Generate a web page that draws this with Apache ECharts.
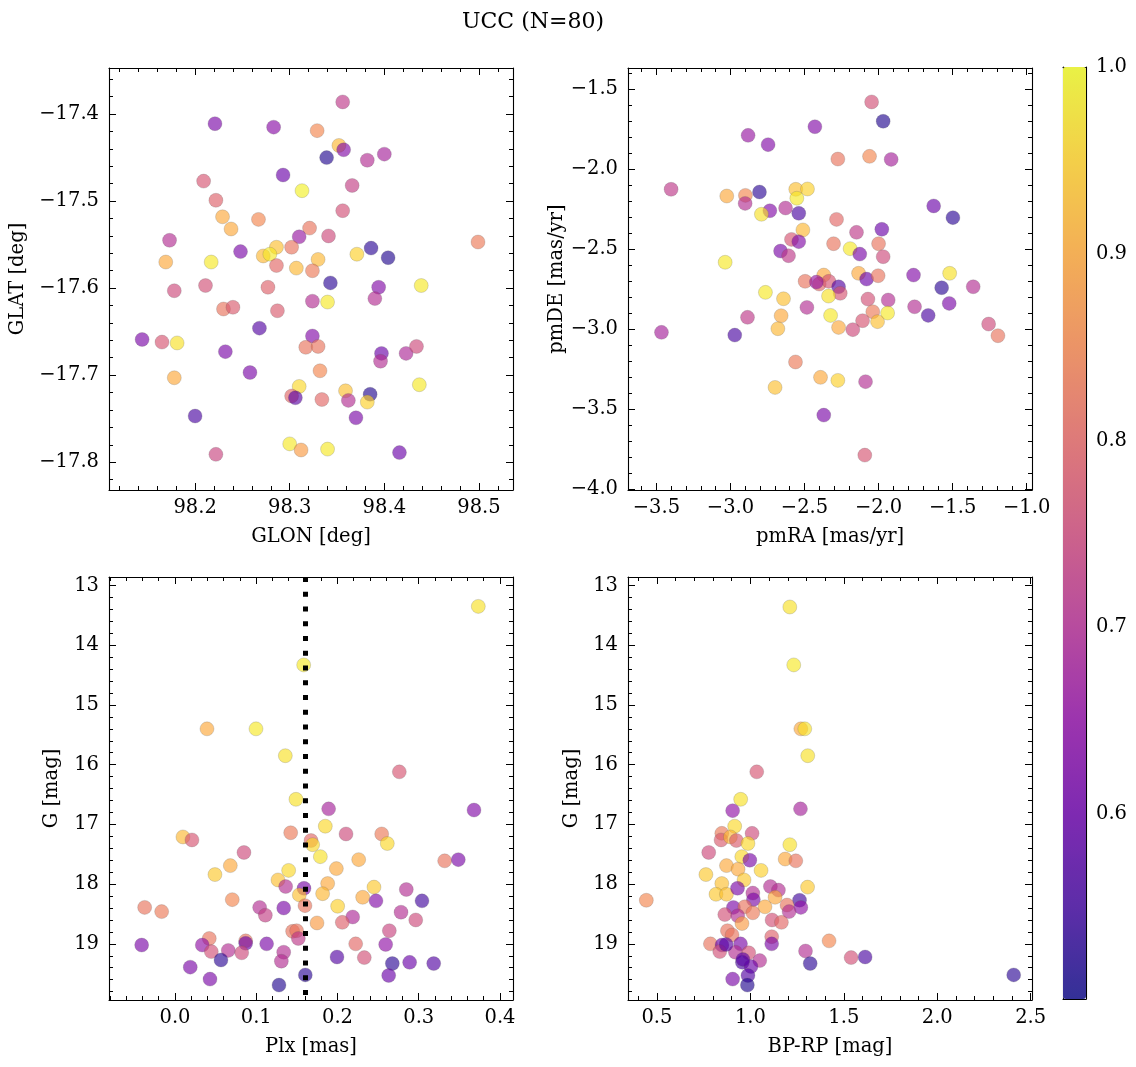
<!DOCTYPE html>
<html><head><meta charset="utf-8">
<script src="https://cdn.jsdelivr.net/npm/echarts@6/dist/echarts.min.js"></script>
<style>html,body{margin:0;padding:0;background:#fff}#c{width:1136px;height:1067px}</style>
</head><body><div id="c"></div>
<script>
const chartTitle = 'UCC (N=80)';

// [GLON, GLAT, prob]
const posData = [
[98.356,-17.386,0.72],[98.221,-17.411,0.62],[98.283,-17.415,0.64],[98.329,-17.419,0.85],[98.352,-17.436,0.92],
[98.357,-17.441,0.63],[98.339,-17.450,0.52],[98.382,-17.453,0.70],[98.400,-17.446,0.68],[98.293,-17.470,0.60],
[98.313,-17.488,0.99],[98.366,-17.482,0.73],[98.209,-17.477,0.77],[98.222,-17.499,0.79],[98.229,-17.518,0.90],
[98.238,-17.532,0.90],[98.267,-17.521,0.85],[98.356,-17.511,0.76],[98.321,-17.531,0.82],[98.310,-17.541,0.66],
[98.341,-17.540,0.75],[98.173,-17.545,0.70],[98.499,-17.547,0.83],[98.386,-17.554,0.53],[98.404,-17.565,0.52],
[98.302,-17.553,0.82],[98.286,-17.553,0.93],[98.272,-17.563,0.92],[98.279,-17.561,0.98],[98.248,-17.558,0.62],
[98.169,-17.570,0.90],[98.217,-17.570,0.98],[98.371,-17.561,0.95],[98.330,-17.567,0.92],[98.307,-17.577,0.92],
[98.286,-17.574,0.80],[98.324,-17.580,0.83],[98.343,-17.594,0.53],[98.394,-17.599,0.63],[98.439,-17.597,0.98],
[98.178,-17.603,0.75],[98.211,-17.597,0.76],[98.277,-17.599,0.79],[98.390,-17.612,0.70],[98.324,-17.615,0.70],
[98.340,-17.616,0.98],[98.230,-17.624,0.82],[98.240,-17.622,0.78],[98.287,-17.626,0.78],[98.268,-17.646,0.57],
[98.144,-17.659,0.62],[98.165,-17.662,0.77],[98.181,-17.663,0.97],[98.324,-17.655,0.63],[98.317,-17.668,0.82],
[98.330,-17.667,0.82],[98.397,-17.675,0.60],[98.396,-17.684,0.70],[98.423,-17.675,0.69],[98.434,-17.667,0.75],
[98.232,-17.673,0.62],[98.258,-17.697,0.62],[98.332,-17.695,0.85],[98.178,-17.703,0.90],[98.310,-17.713,0.96],
[98.437,-17.711,0.98],[98.359,-17.718,0.93],[98.302,-17.724,0.80],[98.306,-17.726,0.58],[98.334,-17.728,0.80],
[98.362,-17.729,0.70],[98.385,-17.722,0.52],[98.382,-17.731,0.95],[98.200,-17.747,0.56],[98.370,-17.749,0.62],
[98.300,-17.779,0.98],[98.312,-17.786,0.88],[98.340,-17.785,0.98],[98.222,-17.791,0.74],[98.416,-17.789,0.60]
];

// [pmRA, pmDE, prob]
const pmData = [
[-2.047,-1.579,0.76],[-1.969,-1.700,0.52],[-2.430,-1.734,0.63],[-2.881,-1.788,0.66],[-2.746,-1.846,0.63],
[-2.275,-1.936,0.82],[-2.061,-1.919,0.85],[-1.915,-1.938,0.68],[-3.401,-2.125,0.72],[-3.025,-2.167,0.90],
[-2.899,-2.163,0.85],[-2.901,-2.213,0.70],[-2.804,-2.142,0.53],[-2.559,-2.125,0.93],[-2.480,-2.123,0.95],
[-2.552,-2.181,0.98],[-2.734,-2.259,0.63],[-2.791,-2.281,0.97],[-2.628,-2.242,0.70],[-2.539,-2.275,0.56],
[-1.628,-2.229,0.60],[-1.498,-2.302,0.53],[-2.284,-2.313,0.80],[-2.511,-2.379,0.92],[-2.149,-2.394,0.72],
[-1.978,-2.375,0.60],[-2.588,-2.438,0.77],[-2.539,-2.452,0.63],[-2.304,-2.465,0.82],[-2.000,-2.465,0.82],
[-2.192,-2.496,0.98],[-2.127,-2.530,0.62],[-1.969,-2.546,0.75],[-2.662,-2.511,0.62],[-2.608,-2.540,0.72],
[-3.036,-2.581,0.98],[-2.370,-2.661,0.90],[-2.135,-2.650,0.90],[-2.081,-2.686,0.60],[-2.003,-2.665,0.82],
[-1.764,-2.661,0.63],[-1.520,-2.650,0.97],[-2.496,-2.700,0.82],[-2.401,-2.717,0.80],[-2.336,-2.700,0.77],
[-2.270,-2.734,0.57],[-2.259,-2.775,0.77],[-2.338,-2.792,0.97],[-2.764,-2.769,0.98],[-2.642,-2.809,0.93],
[-1.574,-2.740,0.53],[-1.361,-2.734,0.70],[-2.072,-2.811,0.76],[-1.935,-2.817,0.70],[-1.523,-2.838,0.62],
[-2.484,-2.863,0.70],[-1.757,-2.859,0.70],[-2.039,-2.890,0.83],[-1.939,-2.898,0.98],[-2.324,-2.913,0.98],
[-2.658,-2.915,0.90],[-2.885,-2.925,0.72],[-1.665,-2.913,0.56],[-2.108,-2.946,0.77],[-2.007,-2.952,0.93],
[-1.257,-2.967,0.75],[-1.194,-3.040,0.82],[-2.680,-2.996,0.92],[-2.270,-2.988,0.90],[-2.174,-3.002,0.75],
[-3.466,-3.019,0.68],[-2.971,-3.036,0.56],[-2.561,-3.204,0.83],[-2.392,-3.300,0.90],[-2.275,-3.319,0.95],
[-2.088,-3.327,0.70],[-2.699,-3.363,0.93],[-2.370,-3.536,0.62],[-2.093,-3.786,0.77],[-2.420,-2.705,0.66]
];

// [Plx, G, prob]
const plxData = [
[0.3733,13.35,0.97],[0.1584,14.33,0.98],[0.0394,15.40,0.90],[0.0997,15.40,0.98],[0.1358,15.85,0.97],
[0.2761,16.12,0.77],[0.1489,16.58,0.97],[0.1891,16.74,0.68],[0.3680,16.76,0.63],[0.1850,17.03,0.96],
[0.0098,17.21,0.92],[0.0209,17.26,0.77],[0.1424,17.14,0.83],[0.1674,17.27,0.80],[0.1694,17.34,0.96],
[0.2105,17.16,0.75],[0.2544,17.16,0.83],[0.2613,17.32,0.96],[0.0849,17.47,0.75],[0.1789,17.54,0.97],
[0.2261,17.59,0.90],[0.3319,17.61,0.82],[0.3487,17.59,0.62],[0.0681,17.69,0.90],[0.1986,17.74,0.90],
[0.0492,17.84,0.94],[0.1399,17.77,0.96],[0.1268,17.93,0.93],[0.1362,18.04,0.70],[0.1588,18.07,0.62],
[0.1879,17.99,0.90],[0.2449,18.05,0.94],[0.2847,18.09,0.70],[0.1530,18.18,0.93],[0.1817,18.16,0.92],
[0.2310,18.22,0.90],[0.3040,18.28,0.55],[0.2474,18.28,0.63],[0.0705,18.26,0.85],[-0.0373,18.39,0.82],
[-0.0164,18.46,0.83],[0.1042,18.39,0.70],[0.1112,18.52,0.73],[0.1338,18.40,0.62],[0.1600,18.36,0.82],
[0.2002,18.37,0.95],[0.2187,18.55,0.69],[0.2782,18.47,0.70],[0.2963,18.60,0.75],[0.1748,18.65,0.88],
[0.2059,18.64,0.79],[0.2638,18.78,0.74],[0.1448,18.79,0.82],[0.1497,18.78,0.82],[0.1518,18.91,0.72],
[0.0422,18.91,0.82],[0.0870,18.95,0.82],[0.0870,18.99,0.60],[-0.0410,19.02,0.62],[0.0336,19.02,0.65],
[0.1128,19.00,0.62],[0.2224,19.00,0.80],[0.2593,19.01,0.65],[0.0447,19.13,0.76],[0.0656,19.11,0.70],
[0.0821,19.15,0.75],[0.1338,19.14,0.70],[0.1309,19.29,0.70],[0.0566,19.27,0.53],[0.1994,19.22,0.57],
[0.2330,19.23,0.76],[0.2675,19.33,0.53],[0.2888,19.31,0.60],[0.3184,19.33,0.57],[0.0188,19.39,0.62],
[0.0431,19.59,0.62],[0.1604,19.52,0.53],[0.2630,19.53,0.60],[0.1280,19.69,0.52]
];

// [BP-RP, G, prob]
const cmdData = [
[1.211,13.36,0.97],[1.232,14.33,0.98],[1.270,15.40,0.90],[1.291,15.40,0.97],[1.307,15.85,0.97],
[1.034,16.12,0.77],[0.948,16.58,0.97],[0.905,16.77,0.65],[1.268,16.74,0.68],[0.916,17.03,0.96],
[0.847,17.15,0.83],[0.843,17.26,0.78],[0.893,17.21,0.92],[0.925,17.27,0.78],[1.009,17.15,0.75],
[0.987,17.32,0.96],[1.211,17.34,0.97],[0.777,17.47,0.75],[0.954,17.54,0.96],[0.997,17.60,0.62],
[1.186,17.58,0.90],[1.243,17.61,0.82],[0.872,17.69,0.90],[0.934,17.75,0.90],[1.057,17.77,0.95],
[0.762,17.84,0.94],[0.966,17.93,0.94],[0.847,17.99,0.93],[0.816,18.17,0.94],[0.872,18.17,0.93],
[0.931,18.07,0.62],[1.107,18.04,0.70],[1.150,18.10,0.70],[1.306,18.05,0.94],[1.013,18.15,0.70],
[1.016,18.26,0.62],[1.132,18.22,0.90],[1.078,18.38,0.90],[1.263,18.27,0.55],[1.196,18.35,0.82],
[1.270,18.39,0.65],[1.207,18.46,0.70],[0.443,18.27,0.85],[0.909,18.39,0.62],[0.970,18.38,0.82],
[1.013,18.48,0.83],[0.863,18.51,0.76],[0.932,18.53,0.70],[0.955,18.66,0.88],[1.116,18.60,0.76],
[1.166,18.64,0.80],[0.877,18.78,0.82],[0.902,18.85,0.82],[1.114,18.88,0.79],[1.114,19.00,0.62],
[1.421,18.95,0.85],[0.786,19.00,0.82],[0.848,19.02,0.60],[0.947,19.00,0.62],[0.836,19.13,0.76],
[0.920,19.14,0.70],[0.991,19.15,0.76],[1.050,19.28,0.70],[1.295,19.12,0.70],[0.957,19.31,0.56],
[1.003,19.38,0.60],[1.320,19.33,0.53],[1.539,19.23,0.76],[1.614,19.22,0.56],[2.409,19.52,0.53],
[0.905,19.59,0.62],[0.987,19.53,0.57],[0.984,19.69,0.52],[0.870,19.01,0.58],[0.960,19.26,0.58]
];

const plxMean = 0.159;

// tick labels
const glonTicks = [98.2, 98.3, 98.4, 98.5];
const glatTicks = [-17.8, -17.7, -17.6, -17.5, -17.4];
const pmraTicks = [-3.5, -3.0, -2.5, -2.0, -1.5, -1.0];
const pmdeTicks = [-4.0, -3.5, -3.0, -2.5, -2.0, -1.5];
const plxTicks = [0.0, 0.1, 0.2, 0.3, 0.4];
const gTicks = [13, 14, 15, 16, 17, 18, 19];
const bprpTicks = [0.5, 1.0, 1.5, 2.0, 2.5];
const cbarTicks = [0.6, 0.7, 0.8, 0.9, 1.0];
const probRange = [0.501, 1.0];

const plasma = ['#0d0887','#41049d','#6a00a8','#8f0da4','#b12a90','#cc4778','#e16462','#f2844b','#fca636','#fcce25','#f0f921'];
function rgba(h, a) { const n = parseInt(h.slice(1), 16); return 'rgba(' + (n >> 16) + ',' + ((n >> 8) & 255) + ',' + (n & 255) + ',' + a + ')'; }
const plasmaA = plasma.map(c => rgba(c, 0.8));

const FONT = 'DejaVu Serif';
const FS = 19.5;
function fmt(dec) { return v => (v < -1e-9 ? '\u2212' : '') + Math.abs(v).toFixed(dec); }
function mult(min, max, step) { const a = []; for (let i = Math.ceil(min / step - 1e-6); i <= Math.floor(max / step + 1e-6); i++) a.push(+(i * step).toFixed(6)); return a; }

const panels = [
  { grid: {left:109, top:68, width:404, height:422}, data: posData,
    x: {min:98.109, max:98.536, major:glonTicks, minor:0.02, dec:1, name:'GLON [deg]', gap:37},
    y: {min:-17.832, max:-17.347, major:glatTicks, minor:0.02, dec:1, name:'GLAT [deg]', gap:81} },
  { grid: {left:628, top:68, width:404, height:422}, data: pmData,
    x: {min:-3.692, max:-0.964, major:pmraTicks, minor:0.1, dec:1, name:'pmRA [mas/yr]', gap:37},
    y: {min:-4.004, max:-1.367, major:pmdeTicks, minor:0.1, dec:1, name:'pmDE [mas/yr]', gap:48} },
  { grid: {left:109, top:577, width:404, height:423}, data: plxData,
    x: {min:-0.0812, max:0.416, major:plxTicks, minor:0.02, dec:1, name:'Plx [mas]', gap:37},
    y: {min:12.858, max:19.94, major:gTicks, minor:0.2, dec:0, name:'G [mag]', gap:47, inverse:true} },
  { grid: {left:628, top:577, width:404, height:423}, data: cmdData,
    x: {min:0.345, max:2.507, major:bprpTicks, minor:0.1, dec:1, name:'BP-RP [mag]', gap:37},
    y: {min:12.858, max:19.94, major:gTicks, minor:0.2, dec:0, name:'G [mag]', gap:46, inverse:true} }
];

const grids = [], xAxes = [], yAxes = [], series = [];
const lineS = {color:'#000', width:1.1};
const tickS = {color:'#000', width:1};

function makeAxes(list, g, a, isX) {
  const posMain = isX ? 'bottom' : 'left', posOpp = isX ? 'top' : 'right';
  const minors = mult(a.min, a.max, a.minor);
  const base = {gridIndex:g, type:'value', min:a.min, max:a.max, inverse:!!a.inverse, splitLine:{show:false}, silent:true};
  const mainIdx = list.length;
  list.push(Object.assign({}, base, {
    position: posMain,
    axisLine: {show:true, onZero:false, lineStyle:lineS},
    axisTick: {show:true, inside:true, length:7, customValues:a.major, lineStyle:tickS},
    axisLabel: {show:true, customValues:a.major, formatter:fmt(a.dec), fontFamily:FONT, fontSize:FS, color:'#000', margin: isX ? 8 : 10},
    name: a.name, nameLocation:'middle', nameGap:a.gap,
    nameTextStyle: {fontFamily:FONT, fontSize:FS, color:'#000'}
  }));
  list.push(Object.assign({}, base, {
    position: posMain, axisLine:{show:false, onZero:false},
    axisTick: {show:true, inside:true, length:4, customValues:minors, lineStyle:tickS},
    axisLabel: {show:false}
  }));
  list.push(Object.assign({}, base, {
    position: posOpp, axisLine:{show:true, onZero:false, lineStyle:lineS},
    axisTick: {show:true, inside:true, length:7, customValues:a.major, lineStyle:tickS},
    axisLabel: {show:false}
  }));
  list.push(Object.assign({}, base, {
    position: posOpp, axisLine:{show:false, onZero:false},
    axisTick: {show:true, inside:true, length:4, customValues:minors, lineStyle:tickS},
    axisLabel: {show:false}
  }));
  return mainIdx;
}

panels.forEach((p, g) => {
  grids.push(p.grid);
  const xi = makeAxes(xAxes, g, p.x, true);
  const yi = makeAxes(yAxes, g, p.y, false);
  const s = {
    type:'scatter', xAxisIndex:xi, yAxisIndex:yi, data:p.data, symbolSize:14,
    itemStyle:{borderColor:'rgba(90,90,90,0.45)', borderWidth:0.6},
    emphasis:{disabled:true}, silent:true
  };
  if (g === 2) {
    s.markLine = {silent:true, symbol:['none','none'], label:{show:false}, animation:false,
      lineStyle:{color:'#000', width:5, type:[5, 9.75], cap:'butt', opacity:1},
      emphasis:{disabled:true}, data:[{xAxis:plxMean}]};
  }
  series.push(s);
});

// colorbar frame + ticks
const cg = grids.length;
grids.push({left:1063, top:67, width:23, height:932});
const cbMinor = mult(probRange[0], probRange[1], 0.02);
xAxes.push({gridIndex:cg, type:'value', min:0, max:1, position:'bottom', axisLine:{show:true, onZero:false, lineStyle:lineS}, axisTick:{show:false}, axisLabel:{show:false}, splitLine:{show:false}});
xAxes.push({gridIndex:cg, type:'value', min:0, max:1, position:'top', axisLine:{show:true, onZero:false, lineStyle:lineS}, axisTick:{show:false}, axisLabel:{show:false}, splitLine:{show:false}});
yAxes.push({gridIndex:cg, type:'value', min:probRange[0], max:probRange[1], position:'left', axisLine:{show:true, onZero:false, lineStyle:lineS}, axisTick:{show:false}, axisLabel:{show:false}, splitLine:{show:false}});
yAxes.push({gridIndex:cg, type:'value', min:probRange[0], max:probRange[1], position:'right', axisLine:{show:true, onZero:false, lineStyle:lineS},
  axisTick:{show:true, inside:true, length:7, customValues:cbarTicks, lineStyle:tickS},
  axisLabel:{show:true, customValues:cbarTicks, formatter:fmt(1), fontFamily:FONT, fontSize:FS, color:'#000', margin:10}, splitLine:{show:false}});
yAxes.push({gridIndex:cg, type:'value', min:probRange[0], max:probRange[1], position:'right', axisLine:{show:false, onZero:false},
  axisTick:{show:true, inside:true, length:4, customValues:cbMinor, lineStyle:tickS}, axisLabel:{show:false}, splitLine:{show:false}});

const option = {
  animation:false,
  backgroundColor:'#fff',
  title:{text:chartTitle, left:457, top:6, textStyle:{fontFamily:FONT, fontSize:22, fontWeight:'normal', color:'#000'}},
  grid:grids, xAxis:xAxes, yAxis:yAxes, series:series,
  visualMap:{type:'continuous', min:probRange[0], max:probRange[1], dimension:2, seriesIndex:[0,1,2,3],
    calculable:false, hoverLink:false, left:1063, top:67, itemWidth:23, itemHeight:932, padding:0, text:null,
    inRange:{color:plasmaA}, z:1}
};
const chart = echarts.init(document.getElementById('c'), null, {renderer:'canvas'});
chart.setOption(option);
</script></body></html>
